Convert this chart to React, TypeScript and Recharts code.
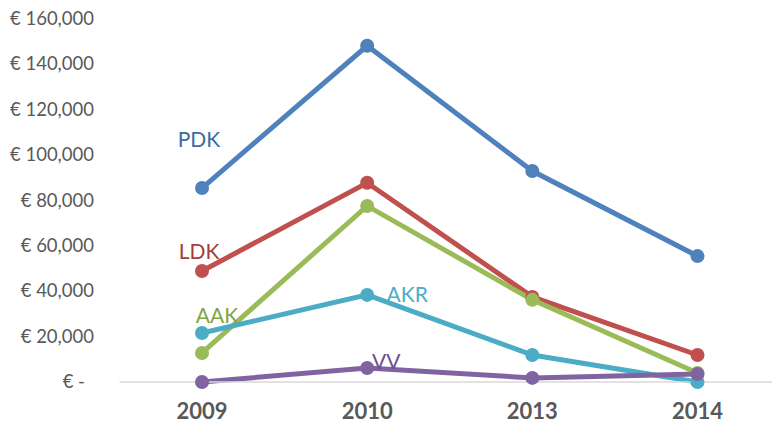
import { LineChart, Line, XAxis, YAxis, LabelList } from 'recharts';

const YEARS = ['2009', '2010', '2013', '2014'];
const PDK = [85500, 148200, 93000, 55500];
const LDK = [48900, 87800, 37500, 11900];
const AAK = [12800, 77600, 36200, 4000];
const AKR = [21600, 38400, 11900, 0];
const VV = [0, 6200, 1800, 3500];
const Y_TICKS = [0, 20000, 40000, 60000, 80000, 100000, 120000, 140000, 160000];

const SERIES = [
  { key: 'PDK', values: PDK, color: '#4F81BD', text: '#3C6AA4', at: 0, dx: -3, dy: -48 },
  { key: 'LDK', values: LDK, color: '#C0504D', text: '#A43C39', at: 0, dx: -3, dy: -19 },
  { key: 'AAK', values: AAK, color: '#9BBB59', text: '#7FA443', at: 0, dx: 15, dy: -37 },
  { key: 'AKR', values: AKR, color: '#4BACC6', text: '#4BACC6', at: 1, dx: 40, dy: 0 },
  { key: 'VV', values: VV, color: '#8064A2', text: '#6B4F8F', at: 1, dx: 19, dy: -6 },
];

const data = YEARS.map((year, i) => {
  const row: Record<string, string | number> = { year };
  SERIES.forEach((s) => {
    row[s.key] = s.values[i]!;
  });
  return row;
});

const FONT = 'Lato, "Open Sans", sans-serif';

function euro(v: number) {
  if (v === 0) return '€ -';
  return `€ ${v.toLocaleString('en-US')}`;
}

function YTick(props: any) {
  const { y, payload } = props;
  const zero = payload.value === 0;
  return (
    <text x={zero ? 85 : 94} y={y} dy={6} textAnchor="end" fill="#595959" fontSize={18.5} fontFamily={FONT}>
      {euro(payload.value)}
    </text>
  );
}

function XTick(props: any) {
  const { x, y, payload } = props;
  return (
    <text x={x} y={y} dy={29} textAnchor="middle" fill="#595959" fontSize={22} fontWeight="bold" fontFamily={FONT}>
      {payload.value}
    </text>
  );
}

function makeLabel(s: (typeof SERIES)[number]) {
  return (props: any) => {
    const { x, y, index } = props;
    if (index !== s.at) return null;
    return (
      <text x={x + s.dx} y={y + s.dy} dy={7} textAnchor="middle" fill={s.text} fontSize={21} fontFamily={FONT}>
        {s.key}
      </text>
    );
  };
}

export default function App() {
  return (
    <div style={{ position: 'absolute', left: 0, top: 0, width: 772, height: 425, overflow: 'hidden', background: '#fff' }}>
      <LineChart width={780} height={425} data={data} margin={{ top: 19, right: 0, bottom: 0, left: 0 }}>
        <XAxis
          dataKey="year"
          height={43}
          stroke="#D9D9D9"
          strokeWidth={1.5}
          tickLine={false}
          tick={<XTick />}
          padding={{ left: 82.5, right: 82.5 }}
          interval={0}
        />
        <YAxis
          width={119.5}
          domain={[0, 160000]}
          ticks={Y_TICKS}
          axisLine={false}
          tickLine={false}
          tick={<YTick />}
          interval={0}
        />
        {SERIES.map((s) => (
          <Line
            key={s.key}
            dataKey={s.key}
            type="linear"
            stroke={s.color}
            strokeWidth={5}
            dot={{ r: 7, fill: s.color, stroke: s.color, strokeWidth: 0 }}
            activeDot={false}
            isAnimationActive={false}
          >
            <LabelList dataKey={s.key} content={makeLabel(s)} />
          </Line>
        ))}
      </LineChart>
    </div>
  );
}
